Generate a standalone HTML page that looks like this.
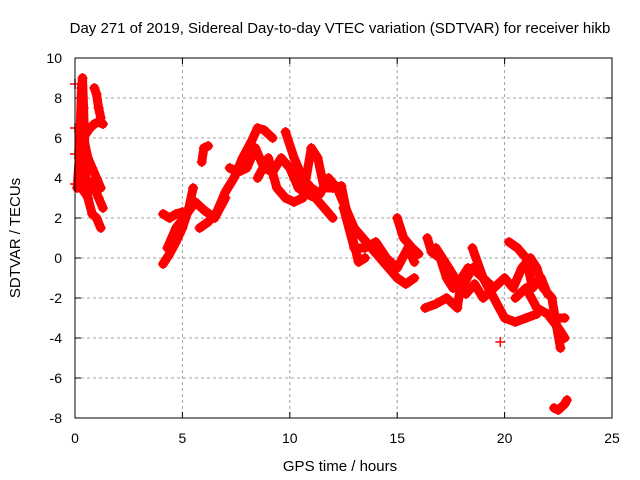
<!DOCTYPE html>
<html><head><meta charset="utf-8"><style>
html,body{margin:0;padding:0;background:#fff;}
svg{display:block;font-family:"Liberation Sans",sans-serif;}
</style></head><body>
<svg id="chart" width="640" height="480" xmlns="http://www.w3.org/2000/svg">
<text x="340" y="33" text-anchor="middle" font-size="15">Day 271 of 2019, Sidereal Day-to-day VTEC variation (SDTVAR) for receiver hikb</text>
<text x="340" y="471" text-anchor="middle" font-size="15">GPS time / hours</text>
<text transform="translate(20,238) rotate(-90)" text-anchor="middle" font-size="15">SDTVAR / TECUs</text>
<g id="grid"></g><g id="ticks"></g><g id="marks"></g>
<rect x="75" y="58" width="537" height="360" fill="none" stroke="#000" stroke-width="1"/>
</svg>
<script>
const xTicks=[0,5,10,15,20,25];
const yTicks=[-8,-6,-4,-2,0,2,4,6,8,10];
const trackA1=[[0.1,3.5],[0.2,5],[0.3,8.5],[0.35,9],[0.4,7.5],[0.5,4],[0.6,3],[0.8,2.2],[1.0,2],[1.2,1.5]];
const trackA2=[[0.3,3.5],[0.5,3.2],[0.7,3.8],[0.9,3.5],[1.1,3],[1.3,2.5]];
const trackA3=[[0.4,6],[0.5,6.2],[0.7,6.5],[0.9,6.7],[1.1,6.8],[1.3,6.7]];
const trackA4=[[0.9,8.5],[1.0,8.2],[1.1,7.5],[1.2,7]];
const trackA5=[[0.4,6],[0.6,5],[0.8,4.5],[1.0,4],[1.2,3.5]];
const trackB1=[[4.1,-0.3],[4.4,0.2],[4.7,0.8],[5.0,1.5],[5.3,2.5],[5.5,3.5]];
const trackB2=[[4.1,2.2],[4.4,2],[4.7,2.2],[5.0,2.3]];
const trackB3=[[4.3,0.5],[4.7,1.5],[5.2,2.2],[5.6,2.8],[6.0,2.4],[6.5,2],[7,3]];
const trackB4=[[5.8,1.5],[6.2,1.8],[6.6,2.3],[7,3.3],[7.4,4],[7.8,5],[8.2,5.8],[8.5,6.5],[8.8,6.4],[9.2,6]];
const trackB5=[[5.9,4.8],[6.0,5.5],[6.2,5.6]];
const trackC1=[[7.2,4.5],[7.6,4.3],[8.0,4.5],[8.4,5.5],[8.8,4.5],[9.2,4.3],[9.6,5],[10,4.5],[10.4,3.5],[10.8,3.2],[11.2,3],[11.6,2.5],[12,2]];
const trackC2=[[8.5,4],[9,5],[9.4,3.5],[9.8,3],[10.2,2.8],[10.6,3],[11,5.5],[11.3,5],[11.6,3.5],[12,3.5],[12.4,3.6],[12.8,1.5],[13.2,-0.2],[13.5,0]];
const trackC3=[[9.8,6.3],[10.2,5],[10.6,4],[11,3.5],[11.4,3.2],[11.8,4],[12.2,3.5],[12.6,2.5],[13,1.5],[13.4,1],[13.8,0.5],[14.2,0],[14.6,-0.5],[15,-1],[15.4,-1.3],[15.8,-1]];
const trackC4=[[12.5,2.5],[13,0.5],[13.5,0.5],[14,0.8],[14.5,0],[15,-0.5],[15.5,0.5],[15.8,-0.2]];
const trackC5=[[15,2],[15.3,1],[15.7,0.5],[16,0.2]];
const trackD1=[[16.3,-2.5],[16.8,-2.3],[17.3,-2.0],[17.8,-2.5],[18,-1],[18.3,-0.5]];
const trackD2=[[16.4,1],[16.6,0.3],[17,0],[17.3,-1],[17.6,-1.5],[18,-1.5],[18.5,-0.5],[19,-1],[19.5,-2],[20,-3],[20.5,-3.2],[21,-3],[21.5,-2.8]];
const trackD3=[[16.8,0.5],[17.4,-0.5],[17.8,-1.2],[18.2,-1.8],[18.6,-1.3],[19,-2],[19.5,-1.5],[20,-1],[20.4,-1.5],[20.8,-0.5],[21.2,0],[21.5,-0.5],[21.8,-1.5],[22.2,-2],[22.4,-3.3],[22.6,-4.5]];
const trackD4=[[18.5,0.5],[19,-1],[19.5,-1.5]];
const trackD5=[[20.2,0.8],[20.6,0.5],[21,0],[21.3,-1.5],[21.7,-1],[22,-1.8]];
const trackD6=[[20.5,-2],[21,-1.5],[21.5,-2.5],[22,-2.8],[22.5,-3.5],[22.8,-4]];
const trackD7=[[22.3,-3],[22.8,-3]];
const trackD8=[[19.8,-4.2]];
const trackE=[[22.3,-7.5],[22.5,-7.6],[22.8,-7.3],[22.9,-7.1]];
const edgePoints=[[0,8.7],[0,6.5],[0,5.2],[0,3.7]];
const tracks=[trackA1,trackA2,trackA3,trackA4,trackA5,trackB1,trackB2,trackB3,trackB4,trackB5,trackC1,trackC2,trackC3,trackC4,trackC5,trackD1,trackD2,trackD3,trackD4,trackD5,trackD6,trackD7,trackD8,trackE];
const NS="http://www.w3.org/2000/svg";
const X0=75,X1=612,Y0=418,Y1=58;
function sx(v){return X0+(v-0)/(25-0)*(X1-X0);}
function sy(v){return Y0-(v-(-8))/(10-(-8))*(Y0-Y1);}
function mk(tag,attrs,parent){const e=document.createElementNS(NS,tag);for(const k in attrs)e.setAttribute(k,attrs[k]);parent.appendChild(e);return e;}
const grid=document.getElementById('grid'),ticks=document.getElementById('ticks'),marks=document.getElementById('marks');
xTicks.forEach(t=>{const x=sx(t);
 if(t>0&&t<25){const g=mk('line',{x1:x,x2:x,y1:Y1,y2:Y0,stroke:'#a0a0a0','stroke-dasharray':'3,3'},grid);
 
 }
 mk('line',{x1:x,x2:x,y1:Y0,y2:Y0-6,stroke:'#000'},ticks);
 mk('line',{x1:x,x2:x,y1:Y1,y2:Y1+6,stroke:'#000'},ticks);
 const l=mk('text',{x:x,y:443,'text-anchor':'middle','font-size':'14'},ticks);l.textContent=t;
 
 });
yTicks.forEach(t=>{const y=sy(t);
 if(t>-8&&t<10){const g=mk('line',{x1:X0,x2:X1,y1:y,y2:y,stroke:'#a0a0a0','stroke-dasharray':'3,3'},grid);
 
 }
 mk('line',{x1:X0,x2:X0+6,y1:y,y2:y,stroke:'#000'},ticks);
 mk('line',{x1:X1,x2:X1-6,y1:y,y2:y,stroke:'#000'},ticks);
 const l=mk('text',{x:62,y:y+5,'text-anchor':'end','font-size':'14'},ticks);l.textContent=t;
 
 });
function plus(g,x,y){
 const m=mk('path',{d:`M${x-5},${y}H${x+5}M${x},${y-5}V${y+5}`,stroke:'#f00','stroke-width':'1.5'},g);
 
 }
tracks.forEach(tr=>{
 const g=mk('g',{},marks);
 
 
 if(tr.length>1){mk('polyline',{points:tr.map(p=>sx(p[0])+','+sy(p[1])).join(' '),fill:'none',stroke:'#f00','stroke-width':'9','stroke-linejoin':'round','stroke-linecap':'round'},g);}
 tr.forEach(p=>plus(g,sx(p[0]),sy(p[1])));
});
const eg=mk('g',{},marks);


edgePoints.forEach(p=>plus(eg,sx(p[0]),sy(p[1])));
</script>
</body></html>
